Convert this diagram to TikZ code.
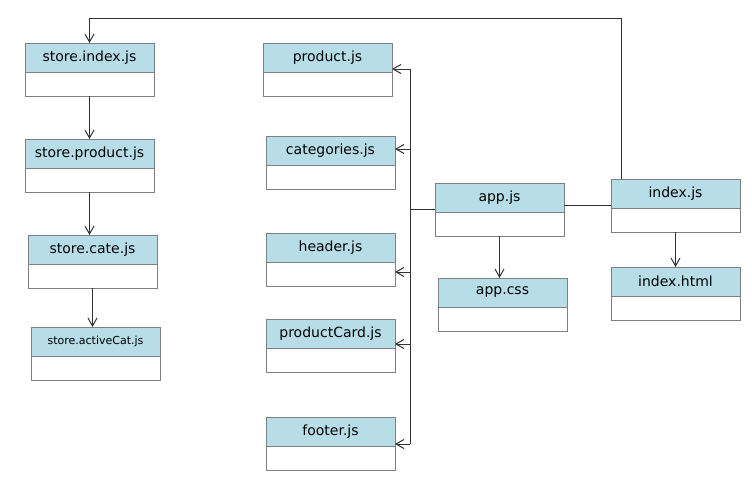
\documentclass[tikz,border=0pt]{standalone}
\usepackage{fontspec}
\setmainfont{DejaVu Sans}
\usetikzlibrary{arrows.meta}
\definecolor{headblue}{RGB}{182,221,232}
\definecolor{boxgray}{RGB}{128,128,128}
\definecolor{linegray}{RGB}{50,50,50}
\begin{document}
\begin{tikzpicture}[x=1pt,y=-1pt,
    head/.style={draw=boxgray,fill=headblue,line width=1pt,minimum width=129pt,minimum height=29pt,
      inner sep=0pt,outer sep=0pt,anchor=north west,font=\fontsize{14}{16}\selectfont},
    body/.style={draw=boxgray,fill=white,line width=1pt,minimum width=129pt,minimum height=24pt,
      inner sep=0pt,outer sep=0pt,anchor=north},
    link/.style={draw=linegray,line width=1pt},
    arr/.style={link,-{Straight Barb[length=8pt,width=9pt]}}]
  \useasboundingbox (0,0) rectangle (752,496);
  \foreach \n/\x/\y/\t in {si/25/43/store.index.js, sp/25/139/store.product.js, sc/28/235/store.cate.js,
      pj/263/43/product.js, cj/266/136/categories.js, hj/266/233/header.js, pc/266/319/productCard.js,
      fj/266/417/footer.js, aj/435/183/app.js, ac/438/278/app.css, ij/611/179/index.js, ih/611/267/index.html}
    {\node[head] (\n) at (\x,\y) {\t};
     \node[body] (b\n) at (\n.south) {};}
  \node[head,font=\fontsize{11}{13}\selectfont] (sa) at (31,327) {store.activeCat.js};
  \node[body] (bsa) at (sa.south) {};
  % store chain
  \coordinate (t1) at (621,18);
  \draw[arr] (t1 |- ij.north) -- (t1) -| (si.north);
  \draw[arr] (bsi.south) -- (sp.north);
  \draw[arr] (bsp.south) -- (bsp.south |- sc.north);
  \draw[arr] (bsc.south) -- (bsc.south |- sa.north);
  \draw[arr] (baj.south) -- (baj.south |- ac.north);
  \draw[arr] (bij.south) -- (ih.north);
  \coordinate (c1) at (590,205);
  \draw[link] (c1 -| aj.east) -- (c1 -| ij.west);
  % components bus
  \coordinate (k0) at (410,209);
  \draw[link] (k0 -| aj.west) -- (k0);
  \foreach \n/\y in {pj/69,cj/149,hj/272,pc/344,fj/444}
    {\coordinate (k\n) at (410,\y);
     \draw[arr] (k\n) -- (k\n -| \n.east);}
  \draw[link] (kpj) -- (kfj);
\end{tikzpicture}
\end{document}
